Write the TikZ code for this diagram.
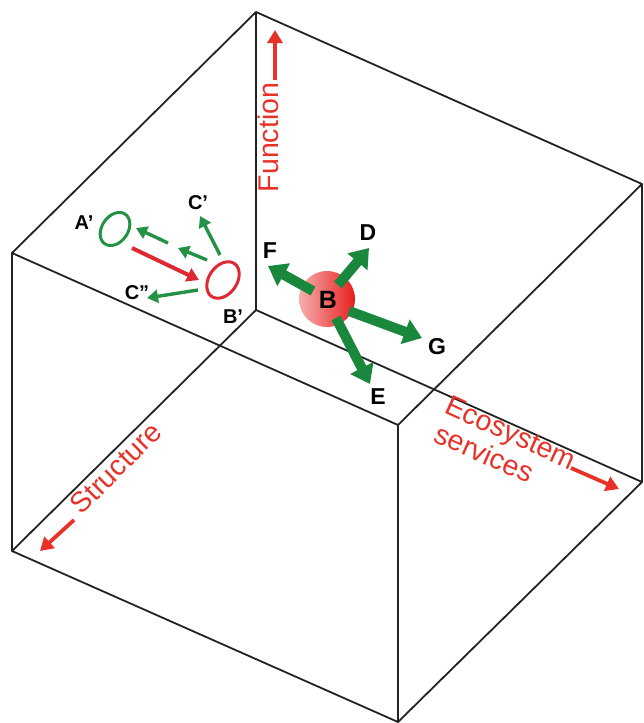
\documentclass[tikz,border=0pt]{standalone}
\usepackage{fontspec}
\setmainfont{Liberation Sans}
\usetikzlibrary{arrows.meta,shapes.geometric}
\definecolor{axred}{RGB}{232,50,40}
\definecolor{lgreen}{RGB}{35,145,70}
\definecolor{dgreen}{RGB}{25,135,60}
\definecolor{ered}{RGB}{222,40,50}
\definecolor{edgecol}{RGB}{35,35,35}
\definecolor{balllight}{RGB}{245,175,175}
\definecolor{balldark}{RGB}{232,30,30}
\begin{document}
\begin{tikzpicture}[x=1pt,y=-1pt,
  edgeline/.style={draw=edgecol,line width=1.8pt,line join=round},
  axisarrow/.style={draw=axred,line width=3.8pt,-{Triangle[width=15pt,length=13pt]}},
  axislabel/.style={text=axred,font=\fontsize{28.5}{30}\selectfont,inner sep=0pt,anchor=mid},
  thickarrow/.style={draw=dgreen,line width=10pt,-{Triangle[width=25pt,length=18pt]}},
  thinarrow/.style={draw=lgreen,line width=3.4pt,-{Triangle[width=13pt,length=11pt]}},
  redarrow/.style={draw=ered,line width=4pt,-{Triangle[width=14pt,length=12pt]}},
  biglabel/.style={font=\bfseries\fontsize{23}{26}\selectfont,inner sep=0pt},
  smalllabel/.style={font=\bfseries\fontsize{20}{23}\selectfont,inner sep=0pt},
  oval/.style={ellipse,line width=3pt,inner sep=0pt,minimum width=36pt,minimum height=26pt,rotate=55}]
\useasboundingbox (0,0) rectangle (643,723);
% cube corners
\coordinate (T) at (256,12);
\coordinate (L) at (12,253);
\coordinate (R) at (642,184);
\coordinate (F) at (398,425);
\coordinate (Bk) at (256,310);
\coordinate (LB) at (12,551);
\coordinate (RB) at (642,482);
\coordinate (FB) at (398,722);
\draw[edgeline] (T) -- (L) -- (F) -- (R) -- cycle;
\draw[edgeline] (Bk) -- (LB) -- (FB) -- (RB) -- cycle;
\draw[edgeline] (T) -- (Bk);
\draw[edgeline] (L) -- (LB);
\draw[edgeline] (F) -- (FB);
\draw[edgeline] (R) -- (RB);
% axis labels
\node[axislabel,rotate=90] (func) at (275.5,137.5) {Function};
\coordinate (funcA) at (275,80);
\coordinate (funcB) at (275,30);
\draw[axisarrow] (funcA) -- (funcB);
\node[axislabel,rotate=45] (struct) at (121,473) {Structure};
\coordinate (structA) at (74,520);
\coordinate (structB) at (40,551);
\draw[axisarrow] (structA) -- (structB);
\node[axislabel,rotate=-24.5] (eco) at (508,439) {Ecosystem};
\node[axislabel,rotate=-24] (serv) at (481.5,460) {services};
\coordinate (ecoA) at (571,468);
\coordinate (ecoB) at (619,489);
\draw[axisarrow] (ecoA) -- (ecoB);
% small ovals
\node[oval,draw=lgreen] (Aov) at (115,229) {};
\node[oval,draw=ered,minimum width=40pt,minimum height=28pt] (Bov) at (223,280) {};
\node[smalllabel] (Alab) at (84,223) {A’};
\node[smalllabel] (Cp) at (198,203) {C’};
\node[smalllabel] (Cpp) at (137,293) {C”};
\node[smalllabel] (Blab) at (233,317) {B’};
\coordinate (g1a) at (168,243); \coordinate (g1b) at (136,228);
\coordinate (g2a) at (207,260); \coordinate (g2b) at (178,248);
\coordinate (g3a) at (220,255); \coordinate (g3b) at (200,216);
\coordinate (g4a) at (198,290); \coordinate (g4b) at (147,298);
\coordinate (ra) at (132,248); \coordinate (rb) at (199,280);
\draw[thinarrow] (g1a) -- (g1b);
\draw[thinarrow] (g2a) -- (g2b);
\draw[thinarrow] (g3a) -- (g3b);
\draw[thinarrow] (g4a) -- (g4b);
\draw[redarrow] (ra) -- (rb);
% ball and arrows
\node[circle,minimum size=56pt,inner sep=0pt,left color=balllight,right color=balldark] (ball) at (327,299) {};
\coordinate (fA) at (313,291); \coordinate (fB) at (268,266);
\coordinate (dA) at (338,285); \coordinate (dB) at (369,248);
\coordinate (gA) at (349,311); \coordinate (gB) at (422,338);
\coordinate (eA) at (336,318); \coordinate (eB) at (370,384);
\draw[thickarrow] (fA) -- (fB);
\draw[thickarrow] (dA) -- (dB);
\draw[thickarrow] (gA) -- (gB);
\draw[thickarrow] (eA) -- (eB);
\node[biglabel,font=\bfseries\fontsize{25}{27}\selectfont] (Blet) at (328,300) {B};
\node[biglabel] (Dl) at (368,233) {D};
\node[biglabel] (Fl) at (270,251) {F};
\node[biglabel] (Gl) at (437,347) {G};
\node[biglabel] (El) at (378,397) {E};
\end{tikzpicture}
\end{document}
